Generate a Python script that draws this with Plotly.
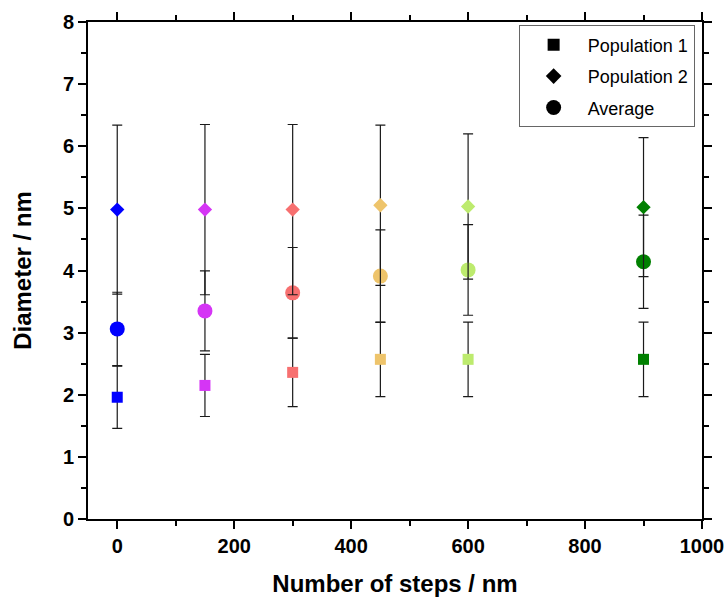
import plotly.graph_objects as go

steps = [0, 150, 300, 450, 600, 900]
colors = ["#0000ff", "#d535f5", "#f77070", "#eec46b", "#bdeb6e", "#008000"]

pop1 = [1.96, 2.15, 2.36, 2.57, 2.57, 2.57]
pop1_err = [0.50, 0.50, 0.55, 0.60, 0.60, 0.60]

pop2 = [4.98, 4.98, 4.98, 5.05, 5.03, 5.02]
pop2_err = [1.36, 1.37, 1.37, 1.29, 1.17, 1.12]

avg = [3.06, 3.35, 3.64, 3.91, 4.01, 4.14]
avg_err = [0.59, 0.645, 0.73, 0.745, 0.73, 0.75]

FONT = "Arial, Liberation Sans, sans-serif"

fig = go.Figure()

def err(vals):
    return dict(type="data", array=vals, visible=True, color="#1a1a1a",
                thickness=1.2, width=5)

# data traces
fig.add_trace(go.Scatter(x=steps, y=avg, mode="markers", showlegend=False,
                         marker=dict(symbol="circle", size=15, color=colors),
                         error_y=err(avg_err)))
fig.add_trace(go.Scatter(x=steps, y=pop1, mode="markers", showlegend=False,
                         marker=dict(symbol="square", size=11, color=colors),
                         error_y=err(pop1_err)))
fig.add_trace(go.Scatter(x=steps, y=pop2, mode="markers", showlegend=False,
                         marker=dict(symbol="diamond", size=11, color=colors),
                         error_y=err(pop2_err)))

# legend entries
for name, sym, sz, g in [("Population 1", "square", 12, "a"),
                         ("Population 2", "diamond", 12, "b"),
                         ("Average", "circle", 15, "c")]:
    fig.add_trace(go.Scatter(x=[None], y=[None], mode="markers", name=name,
                             legendgroup=g,
                             marker=dict(symbol=sym, size=sz, color="black")))

axis_common = dict(
    showline=True, linecolor="black", linewidth=2, mirror="ticks",
    ticks="outside", ticklen=8, tickwidth=2, tickcolor="black",
    showgrid=False, zeroline=False, automargin=False,
    tickfont=dict(family=FONT, size=20, color="black", weight="bold"),
)

fig.update_xaxes(range=[-50, 1000], tick0=0, dtick=200,
                 minor=dict(ticks="outside", ticklen=5, tickwidth=2, dtick=100, tickcolor="black"),
                 title=dict(text="Number of steps / nm", standoff=19,
                            font=dict(family=FONT, size=24, color="black", weight="bold")),
                 **axis_common)
fig.update_yaxes(range=[0, 8], tick0=0, dtick=1,
                 minor=dict(ticks="outside", ticklen=5, tickwidth=2, dtick=0.5, tickcolor="black"),
                 title=dict(text="Diameter / nm", standoff=24,
                            font=dict(family=FONT, size=24, color="black", weight="bold")),
                 **axis_common)

fig.update_layout(
    width=728, height=600,
    margin=dict(l=88, r=26, t=22, b=81),
    paper_bgcolor="white", plot_bgcolor="white",
    legend=dict(x=0.988, xanchor="right", y=0.993, yanchor="top",
                bordercolor="#666666", borderwidth=1, bgcolor="white",
                traceorder="grouped", tracegroupgap=5, itemwidth=58,
                font=dict(family=FONT, size=18, color="black")),
)

fig.write_html("out.html", config={"displayModeBar": False},
               post_script="document.body.style.margin='0';")
